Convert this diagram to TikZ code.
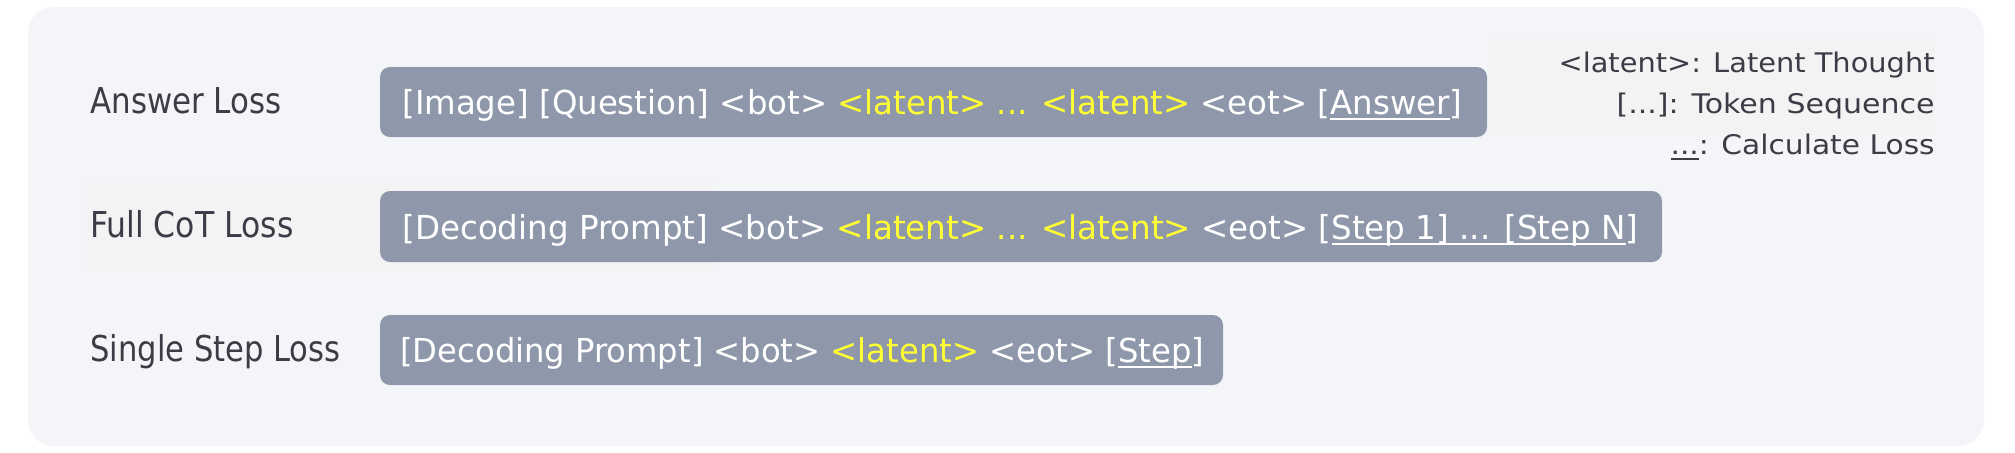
\documentclass[tikz,border=0pt]{standalone}
\usepackage{fontspec}
\usepackage{graphicx}
\setmainfont{DejaVu Sans}
\newfontfamily\condfont{DejaVu Sans Condensed}
\definecolor{panelbg}{HTML}{F4F5F9}
\definecolor{bandbg}{HTML}{F3F3F4}
\definecolor{boxfill}{HTML}{8F98AA}
\definecolor{labeltext}{HTML}{3C3C46}
\definecolor{latentyellow}{HTML}{FFFF33}
\newlength\ulwidth
\newcommand\myul[1]{\settowidth\ulwidth{#1}\rlap{\rule[-2.8pt]{\ulwidth}{1pt}}#1}
\newcommand\lat[1]{\textcolor{latentyellow}{#1}}
\tikzset{
  seqbox/.style={fill=boxfill, rounded corners=5pt, draw=none},
  seqtext/.style={anchor=base west, inner sep=0pt, text=white, font=\condfont\fontsize{16.5}{19}\selectfont},
  losslabel/.style={anchor=base west, inner sep=0pt, text=labeltext, font=\condfont\fontsize{17.8}{20}\selectfont},
  legendtext/.style={anchor=base east, inner sep=0pt, text=labeltext, font=\fontsize{13.5}{16}\selectfont},
}
\begin{document}
\begin{tikzpicture}[x=0.5pt,y=-0.5pt]
\useasboundingbox (0,0) rectangle (2015,452);
\fill[white] (0,0) rectangle (2015,452);
\fill[panelbg, rounded corners=13pt] (28,7) rectangle (1984,446);
\fill[bandbg] (87,182) rectangle (713,270);
\fill[bandbg] (1490,38) rectangle (1935,135);

% sequence boxes
\fill[seqbox] (380,67) rectangle (1487,137);
\fill[seqbox] (380,191) rectangle (1662,262);
\fill[seqbox] (380,315) rectangle (1223,385);

\node[seqtext] (t1) at (402,114.5) {\resizebox{530pt}{\height}{[Image] [Question] <bot> \lat{<latent> ... <latent>} <eot> [\myul{Answer}]}};
\node[seqtext] (t2) at (402,239) {\resizebox{618pt}{\height}{[Decoding Prompt] <bot> \lat{<latent> ... <latent>} <eot> [\myul{Step 1] ... [Step N}]}};
\node[seqtext] (t3) at (400,362.5) {\resizebox{402pt}{\height}{[Decoding Prompt] <bot> \lat{<latent>} <eot> [\myul{Step}]}};

% labels
\node[losslabel] (l1) at (90,113) {\resizebox{95.5pt}{\height}{Answer Loss}};
\node[losslabel] (l2) at (90,237) {\resizebox{101.5pt}{\height}{Full CoT Loss}};
\node[losslabel] (l3) at (90,361) {\resizebox{125pt}{\height}{Single Step Loss}};

% legend
\node[legendtext] (g1) at (1935,72) {\resizebox{188pt}{\height}{<latent>: Latent Thought}};
\node[legendtext] (g2) at (1935,113) {\resizebox{159pt}{\height}{[...]: Token Sequence}};
\node[legendtext] (g3) at (1935,154) {\resizebox{132pt}{\height}{\myul{...}: Calculate Loss}};
\end{tikzpicture}
\end{document}
